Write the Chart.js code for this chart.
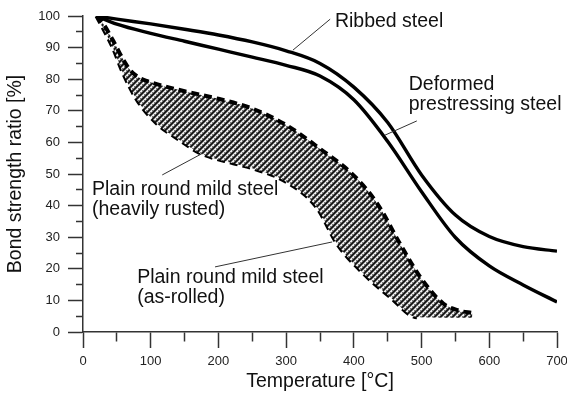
<!DOCTYPE html>
<html lang="en">
<head>
    <meta charset="UTF-8">
    <title>Bond strength ratio vs temperature</title>
    <script src="https://cdn.jsdelivr.net/npm/chart.js"></script>
    <style>
        body { margin: 0; padding: 0; background: #fff; }
        canvas { display: block; }
    </style>
</head>
<body>
    <canvas id="grafico" width="567" height="395"></canvas>

    <script>
        // valores: temperatura (°C) e razão de aderência (%)
        const ribbedT  = [20, 50, 100, 150, 200, 250, 300, 350, 400, 450, 500, 550, 600, 650, 700];
        const ribbedY  = [100, 99, 97.5, 95.8, 94, 91.8, 89, 85, 77.5, 66.3, 49.7, 37, 30.2, 27, 25.6];

        const deformedT = [20, 50, 100, 150, 200, 250, 300, 350, 400, 450, 500, 550, 600, 650, 700];
        const deformedY = [100, 97.4, 94.5, 92, 89.5, 87, 84.4, 81, 73.5, 60.3, 44.4, 29.9, 20.9, 14.9, 9.5];

        // faixa do aço liso (limite superior = enferrujado, inferior = laminado)
        const bandUpperT = [20, 30, 45, 60, 70, 82, 95, 120, 150, 200, 250, 300, 350, 400, 435, 468, 498, 532, 555, 575];
        const bandUpperY = [100, 97.5, 92, 86, 82.8, 80.6, 79.4, 77.8, 76.2, 73.8, 70.7, 65.5, 58, 49.5, 40.5, 28, 17.4, 9, 6.8, 6];

        const bandLowerT = [20, 44, 59, 80, 109, 143, 173, 222, 250, 296, 345, 375, 409, 454, 493, 575];
        const bandLowerY = [100, 90, 82, 73.4, 66, 60.7, 56.6, 53.4, 51.8, 48, 39.5, 28, 19.6, 11, 4.7, 4.5];

        const xTicks = [0, 100, 200, 300, 400, 500, 600, 700];
        const yTicks = [0, 10, 20, 30, 40, 50, 60, 70, 80, 90, 100];

        const pares = (xs, ys) => xs.map((x, i) => ({ x: x, y: ys[i] }));

        // textos com linha de chamada, em unidades dos eixos
        const notas = [
            { linhas: ['Ribbed steel'], pos: [372, 96.5], seta: [[310, 89.2], [365, 99]] },
            { linhas: ['Deformed', 'prestressing steel'], pos: [481, 76.6], seta: [[446, 62.3], [493, 66.8]] },
            { linhas: ['Plain round mild steel', '(heavily rusted)'], pos: [13.3, 43.4], seta: [[117, 49.7], [177, 56.6]] },
            { linhas: ['Plain round mild steel', '(as-rolled)'], pos: [80, 15.5], seta: [[195, 20.6], [368, 28.5]] }
        ];

        const fonte = "Arial, 'Liberation Sans', sans-serif";

        // hachura da faixa: diagonais curtas pretas e brancas sobre cinza
        function hachura() {
            const n = 6;
            const p = document.createElement('canvas');
            p.width = n; p.height = n;
            const g = p.getContext('2d');
            const img = g.createImageData(n, n);
            for (let j = 0; j < n; j++) {
                for (let i = 0; i < n; i++) {
                    const d = (i + j) % n;
                    let c = 120;
                    if (d === 0 || d === 1) c = 25;
                    else if (d === 3 || (d === 4 && i % 2 === 1)) c = 240;
                    const k = (j * n + i) * 4;
                    img.data[k] = img.data[k + 1] = img.data[k + 2] = c;
                    img.data[k + 3] = 255;
                }
            }
            g.putImageData(img, 0, 0);
            return g.createPattern(p, 'repeat');
        }

        const pluginNotas = {
            id: 'notas',
            afterDatasetsDraw(chart) {
                const { ctx, scales: { x, y } } = chart;
                ctx.save();
                notas.forEach(n => {
                    ctx.strokeStyle = '#333';
                    ctx.lineWidth = 1;
                    ctx.beginPath();
                    ctx.moveTo(x.getPixelForValue(n.seta[0][0]), y.getPixelForValue(n.seta[0][1]));
                    ctx.lineTo(x.getPixelForValue(n.seta[1][0]), y.getPixelForValue(n.seta[1][1]));
                    ctx.stroke();

                    ctx.fillStyle = '#111';
                    ctx.font = '19.5px ' + fonte;
                    ctx.textBaseline = 'alphabetic';
                    ctx.textAlign = 'left';
                    const px = x.getPixelForValue(n.pos[0]);
                    const py = y.getPixelForValue(n.pos[1]);
                    n.linhas.forEach((t, i) => ctx.fillText(t, px, py + i * 20));
                });
                ctx.restore();
            }
        };

        // traços menores: x a cada 50, y a cada 5
        const tracoMenorX = ctx => (ctx.tick && ctx.tick.value % 100 !== 0) ? [9, 100] : [];
        const tracoMenorY = ctx => (ctx.tick && ctx.tick.value % 10 !== 0) ? [0, 8, 7, 100] : [];

        const config = {
            type: 'line',
            data: {
                datasets: [
                    {
                        label: 'Plain round mild steel (heavily rusted)',
                        data: pares(bandUpperT, bandUpperY),
                        borderColor: '#000',
                        borderWidth: 4,
                        borderDash: [8, 5],
                        backgroundColor: hachura(),
                        fill: '+1',
                        pointRadius: 0,
                        cubicInterpolationMode: 'monotone'
                    },
                    {
                        label: 'Plain round mild steel (as-rolled)',
                        data: pares(bandLowerT, bandLowerY),
                        borderColor: '#000',
                        borderWidth: 4,
                        borderDash: [8, 5],
                        fill: false,
                        pointRadius: 0,
                        cubicInterpolationMode: 'monotone',
                        segment: {
                            borderColor: ctx => ctx.p0.parsed.x >= 493 ? 'rgba(0,0,0,0)' : '#000'
                        }
                    },
                    {
                        label: 'Ribbed steel',
                        data: pares(ribbedT, ribbedY),
                        borderColor: '#000',
                        borderWidth: 3.4,
                        fill: false,
                        pointRadius: 0,
                        cubicInterpolationMode: 'monotone'
                    },
                    {
                        label: 'Deformed prestressing steel',
                        data: pares(deformedT, deformedY),
                        borderColor: '#000',
                        borderWidth: 3.4,
                        fill: false,
                        pointRadius: 0,
                        cubicInterpolationMode: 'monotone'
                    }
                ]
            },
            options: {
                responsive: false,
                animation: false,
                layout: { padding: { left: 0, right: 10, top: 16, bottom: 0 } },
                plugins: {
                    legend: { display: false },
                    tooltip: { enabled: false }
                },
                scales: {
                    x: {
                        type: 'linear',
                        min: 0,
                        max: 700,
                        afterFit: s => { s.height = 63; s.paddingRight = 0; s.paddingLeft = 0; },
                        border: { display: true, color: '#333', width: 1.5 },
                        grid: {
                            drawOnChartArea: false,
                            drawTicks: true,
                            tickLength: 16,
                            tickColor: '#333',
                            tickWidth: 1.5,
                            tickBorderDash: tracoMenorX
                        },
                        ticks: {
                            stepSize: 50,
                            autoSkip: false,
                            maxRotation: 0,
                            padding: 6,
                            color: '#222',
                            font: { family: fonte, size: 13 },
                            callback: v => xTicks.includes(v) ? v : ''
                        },
                        title: {
                            display: true,
                            text: 'Temperature [°C]',
                            color: '#111',
                            font: { family: fonte, size: 19.5 },
                            padding: { top: 0, bottom: 2 }
                        }
                    },
                    y: {
                        min: 0,
                        max: 100,
                        afterFit: s => { s.width = 83; },
                        border: { display: true, color: '#333', width: 1.5 },
                        grid: {
                            drawOnChartArea: false,
                            drawTicks: true,
                            tickLength: 15,
                            tickColor: '#333',
                            tickWidth: 1.5,
                            tickBorderDash: tracoMenorY
                        },
                        ticks: {
                            stepSize: 5,
                            autoSkip: false,
                            padding: 8,
                            color: '#222',
                            font: { family: fonte, size: 13 },
                            callback: v => yTicks.includes(v) ? v : ''
                        },
                        title: {
                            display: true,
                            text: 'Bond strength ratio [%]',
                            color: '#111',
                            font: { family: fonte, size: 19.5 },
                            padding: { top: 4, bottom: 4 }
                        }
                    }
                }
            },
            plugins: [pluginNotas]
        };

        new Chart(document.getElementById('grafico'), config);
    </script>
</body>
</html>
